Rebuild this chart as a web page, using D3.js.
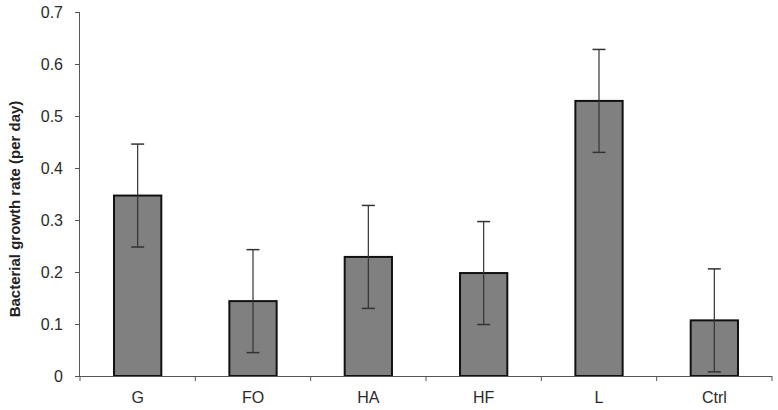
<!DOCTYPE html>
<html>
<head>
<meta charset="utf-8">
<script src="https://cdn.jsdelivr.net/npm/d3@7"></script>
<style>
  html, body { margin: 0; padding: 0; background: #fff; }
  svg { display: block; }
</style>
</head>
<body>
<svg id="chart" width="778" height="410"></svg>
<script>
const categories = ["G", "FO", "HA", "HF", "L", "Ctrl"];
const growthRates = [0.347, 0.144, 0.229, 0.198, 0.529, 0.107];
const errors = [0.099, 0.099, 0.099, 0.099, 0.099, 0.099];
const yTicks = [0, 0.1, 0.2, 0.3, 0.4, 0.5, 0.6, 0.7];
const yTitle = "Bacterial growth rate (per day)";

const svg = d3.select("#chart");
const margin = { left: 80, right: 6, top: 12, bottom: 34 };
const W = 778, H = 410;

const x = d3.scaleBand()
  .domain(categories)
  .range([margin.left, W - margin.right])
  .paddingInner(0.59)
  .paddingOuter(0.295);

const y = d3.scaleLinear()
  .domain([0, 0.7])
  .range([H - margin.bottom, margin.top]);

const font = "Arial, 'Liberation Sans', sans-serif";
const axisColor = "#555";

// bars
svg.append("g").selectAll("rect")
  .data(categories)
  .join("rect")
  .attr("x", (d) => x(d))
  .attr("y", (d, i) => y(growthRates[i]))
  .attr("width", x.bandwidth())
  .attr("height", (d, i) => y(0) - y(growthRates[i]))
  .attr("fill", "#808080")
  .attr("stroke", "#111")
  .attr("stroke-width", 2);

// error bars
const eb = svg.append("g").selectAll("g")
  .data(categories)
  .join("g");
eb.append("line")
  .attr("x1", (d) => x(d) + x.bandwidth() / 2)
  .attr("x2", (d) => x(d) + x.bandwidth() / 2)
  .attr("y1", (d, i) => y(growthRates[i] + errors[i]))
  .attr("y2", (d, i) => y(growthRates[i] - errors[i]))
  .attr("stroke", "#333").attr("stroke-width", 1.2);
["+", "-"].forEach((s) => {
  eb.append("line")
    .attr("x1", (d) => x(d) + x.bandwidth() / 2 - 6.5)
    .attr("x2", (d) => x(d) + x.bandwidth() / 2 + 6.5)
    .attr("y1", (d, i) => y(growthRates[i] + (s === "+" ? 1 : -1) * errors[i]))
    .attr("y2", (d, i) => y(growthRates[i] + (s === "+" ? 1 : -1) * errors[i]))
    .attr("stroke", "#333").attr("stroke-width", 1.5);
});

// y axis
const yAxis = svg.append("g")
  .attr("transform", `translate(${margin.left},0)`)
  .call(d3.axisLeft(y).tickValues(yTicks).tickSize(5).tickPadding(12)
    .tickFormat((d) => d === 0 ? "0" : d3.format(".1f")(d)));
yAxis.select(".domain").attr("stroke", axisColor).attr("d", `M-0.5,${y(0)}V${y(0.7)}`);
yAxis.selectAll(".tick line").attr("stroke", axisColor);
yAxis.selectAll(".tick text")
  .attr("font-family", font).attr("font-size", 16).attr("fill", "#2a2a2a");

// x axis
const xAxis = svg.append("g")
  .attr("transform", `translate(0,${y(0)})`);
xAxis.append("line")
  .attr("x1", margin.left).attr("x2", W - margin.right)
  .attr("y1", 0.5).attr("y2", 0.5)
  .attr("stroke", axisColor);
const bounds = categories.map((d) => x(d) - x.step() * x.paddingInner() / 2);
bounds.push(W - margin.right);
xAxis.selectAll("line.tk")
  .data(bounds)
  .join("line")
  .attr("class", "tk")
  .attr("x1", (d) => d).attr("x2", (d) => d)
  .attr("y1", 0).attr("y2", 5)
  .attr("stroke", axisColor);
xAxis.selectAll("text")
  .data(categories)
  .join("text")
  .attr("x", (d) => x(d) + x.bandwidth() / 2)
  .attr("y", 27)
  .attr("text-anchor", "middle")
  .attr("font-family", font).attr("font-size", 16).attr("fill", "#2a2a2a")
  .text((d) => d);

// y title
svg.append("text")
  .attr("transform", `translate(20,${(y(0) + y(0.7)) / 2 + 15}) rotate(-90)`)
  .attr("text-anchor", "middle")
  .attr("font-family", font).attr("font-size", 15).attr("font-weight", "bold")
  .attr("fill", "#222")
  .text(yTitle);
</script>
</body>
</html>
